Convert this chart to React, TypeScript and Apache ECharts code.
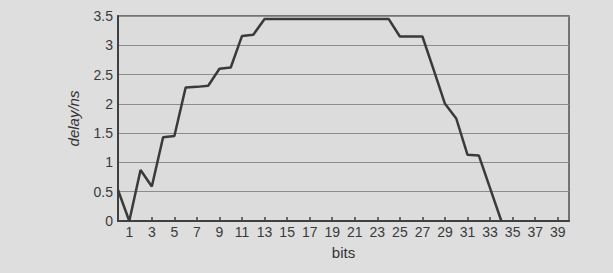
import React, { useEffect, useRef } from "react";
import * as echarts from "echarts";

const xLabels = [
  "0", "1", "2", "3", "4", "5", "6", "7", "8", "9",
  "10", "11", "12", "13", "14", "15", "16", "17", "18", "19",
  "20", "21", "22", "23", "24", "25", "26", "27", "28", "29",
  "30", "31", "32", "33", "34", "35", "36", "37", "38", "39", "40",
];

const delayValues: (number | null)[] = [
  0.53, 0, 0.87, 0.59, 1.43, 1.45, 2.28, 2.29, 2.31, 2.6,
  2.62, 3.16, 3.18, 3.45, 3.45, 3.45, 3.45, 3.45, 3.45, 3.45,
  3.45, 3.45, 3.45, 3.45, 3.45, 3.15, 3.15, 3.15, 2.58, 2.0,
  1.75, 1.13, 1.12, 0.56, 0, null, null, null, null, null, null,
];

const yTicks = { min: 0, max: 3.5, interval: 0.5 };

export default function App() {
  const ref = useRef<HTMLDivElement>(null);
  useEffect(() => {
    if (!ref.current) return;
    const chart = echarts.init(ref.current, null, { renderer: "svg" });
    const font = "Liberation Sans, Arial, sans-serif";
    chart.setOption({
      animation: false,
      backgroundColor: "#dedede",
      grid: {
        left: 118,
        right: 44,
        top: 16,
        bottom: 52,
        show: true,
        backgroundColor: "#dcdcdc",
        borderColor: "#505050",
        borderWidth: 1.5,
      },
      xAxis: {
        type: "category",
        data: xLabels,
        boundaryGap: false,
        name: "bits",
        nameLocation: "middle",
        nameGap: 24,
        nameTextStyle: { fontFamily: font, fontSize: 15, color: "#333" },
        axisLine: { lineStyle: { color: "#404040", width: 2 } },
        axisTick: {
          inside: true,
          length: 4,
          interval: (i: number) => i % 2 === 1,
          lineStyle: { color: "#404040", width: 1.5 },
        },
        axisLabel: {
          interval: (i: number) => i % 2 === 1,
          fontFamily: font,
          fontSize: 14,
          color: "#3a3a3a",
          margin: 4,
        },
        splitLine: { show: false },
      },
      yAxis: {
        type: "value",
        min: yTicks.min,
        max: yTicks.max,
        interval: yTicks.interval,
        name: "delay/ns",
        nameLocation: "middle",
        nameGap: 37,
        nameTextStyle: {
          fontFamily: font,
          fontSize: 15,
          fontStyle: "italic",
          color: "#333",
        },
        axisLine: { show: true, lineStyle: { color: "#404040", width: 2 } },
        axisTick: { show: false },
        axisLabel: {
          fontFamily: font,
          fontSize: 14,
          color: "#3a3a3a",
          margin: 5,
        },
        splitLine: { lineStyle: { color: "#8c8c8c", width: 1 } },
      },
      series: [
        {
          type: "line",
          data: delayValues,
          showSymbol: false,
          symbol: "none",
          connectNulls: false,
          lineStyle: { color: "#3a3a3a", width: 2.5 },
        },
      ],
    });
    return () => chart.dispose();
  }, []);
  return (
    <div
      ref={ref}
      style={{ position: "fixed", left: 0, top: 0, width: 613, height: 273 }}
    />
  );
}
